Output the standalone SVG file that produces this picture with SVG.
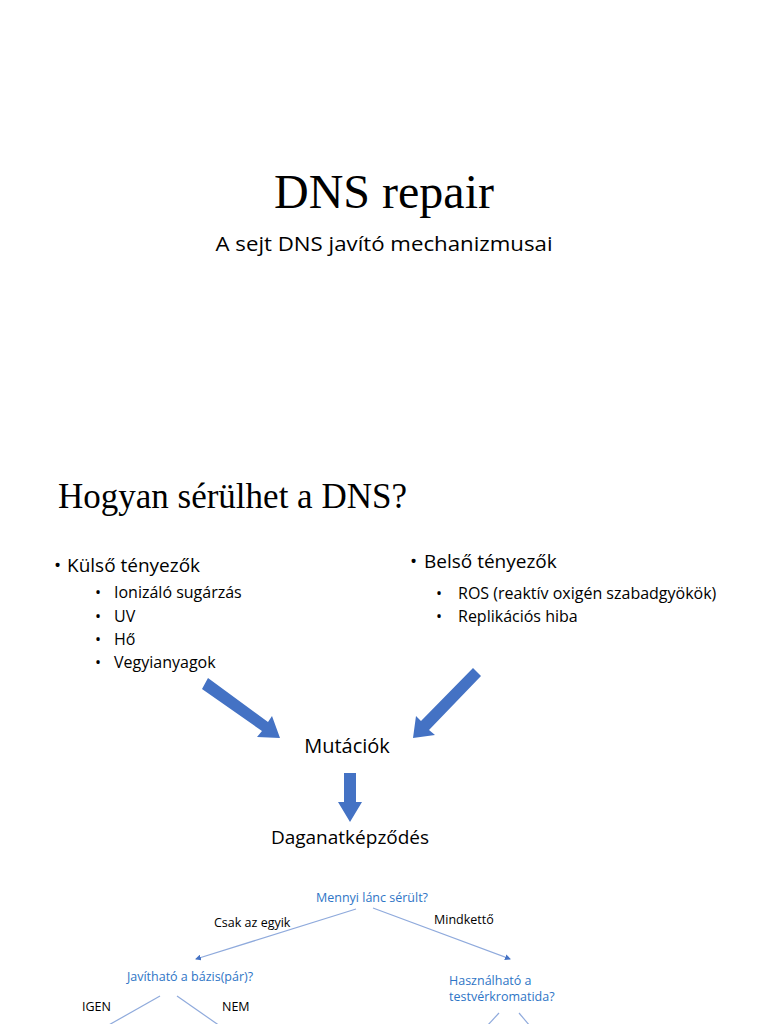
<svg xmlns="http://www.w3.org/2000/svg" width="768" height="1024" viewBox="0 0 768 1024">
<defs>
<style>
.s{font-family:"Open Sans","Liberation Sans",sans-serif;fill:#000}
.serif{font-family:"Liberation Serif",serif;fill:#000}
.b{font-family:"Open Sans","Liberation Sans",sans-serif;fill:#2E75C6;font-size:12.5px}
.k{font-family:"Open Sans","Liberation Sans",sans-serif;fill:#000;font-size:12.5px}
.big{fill:#4472C4}
.thin{stroke:#8FAADC;stroke-width:1.2;fill:none}
</style>
<marker id="ah" markerWidth="6" markerHeight="6" refX="5" refY="3" orient="auto" markerUnits="userSpaceOnUse"><path d="M0,0 L6,3 L0,6 z" fill="#4472C4"/></marker>
</defs>
<rect width="768" height="1024" fill="#fff"/>
<g id="title">
<text class="serif" x="384" y="208" font-size="48" text-anchor="middle">DNS repair</text>
<text class="s" x="384" y="251" font-size="20" text-anchor="middle" textLength="337" lengthAdjust="spacingAndGlyphs">A sejt DNS javító mechanizmusai</text>
</g>
<g id="heading"><text class="serif" x="58" y="508" font-size="35">Hogyan sérülhet a DNS?</text></g>
<g id="kulso">
<text class="s" x="54" y="572" font-size="19">•</text><text class="s" x="67" y="572" font-size="19">Külső tényezők</text>
<text class="s" x="95" y="598" font-size="16">•</text><text class="s" x="114" y="598" font-size="16">Ionizáló sugárzás</text>
<text class="s" x="95" y="622" font-size="16">•</text><text class="s" x="114" y="622" font-size="16">UV</text>
<text class="s" x="95" y="645" font-size="16">•</text><text class="s" x="114" y="645" font-size="16">Hő</text>
<text class="s" x="95" y="668" font-size="16">•</text><text class="s" x="114" y="668" font-size="16">Vegyianyagok</text>
</g>
<g id="belso">
<text class="s" x="410" y="568" font-size="19">•</text><text class="s" x="424" y="568" font-size="19">Belső tényezők</text>
<text class="s" x="436" y="599" font-size="16">•</text><text class="s" x="458" y="599" font-size="16">ROS (reaktív oxigén szabadgyökök)</text>
<text class="s" x="436" y="622" font-size="16">•</text><text class="s" x="458" y="622" font-size="16">Replikációs hiba</text>
</g>
<g id="mutaciok"><text class="s" x="347" y="753" font-size="20" text-anchor="middle">Mutációk</text></g>
<g id="daganat"><text class="s" x="350" y="844" font-size="19" text-anchor="middle">Daganatképződés</text></g>
<g id="q1"><text class="b" x="372" y="902" text-anchor="middle">Mennyi lánc sérült?</text></g>
<g id="q2"><text class="b" x="190" y="981" text-anchor="middle">Javítható a bázis(pár)?</text></g>
<g id="q3"><text class="b" x="449" y="985">Használható a</text><text class="b" x="449" y="1001">testvérkromatida?</text></g>
<g id="labels">
<text class="k" x="214" y="927">Csak az egyik</text>
<text class="k" x="434" y="924">Mindkettő</text>
<text class="k" x="82" y="1011">IGEN</text>
<text class="k" x="222" y="1011">NEM</text>
</g>
<g id="connectors">
<path class="big" d="M202,689 L208,678 L268,722 L272,716 L280,738 L257,737 L262,731 Z"/>
<path class="big" d="M481,676 L473,668 L421,721 L416,716 L413,738 L435,735 L429,730 Z"/>
<path class="big" d="M344,773 L356,773 L356,802 L362,802 L350,822 L338,802 L344,802 Z"/>
<line class="thin" x1="356" y1="909" x2="196" y2="959" marker-end="url(#ah)"/>
<line class="thin" x1="373" y1="908" x2="510" y2="959" marker-end="url(#ah)"/>
<line class="thin" x1="160" y1="996" x2="107" y2="1026"/>
<line class="thin" x1="177" y1="996" x2="220" y2="1026"/>
<line class="thin" x1="499" y1="1013" x2="487" y2="1026"/>
<line class="thin" x1="519" y1="1013" x2="530" y2="1026"/>
</g>
</svg>
